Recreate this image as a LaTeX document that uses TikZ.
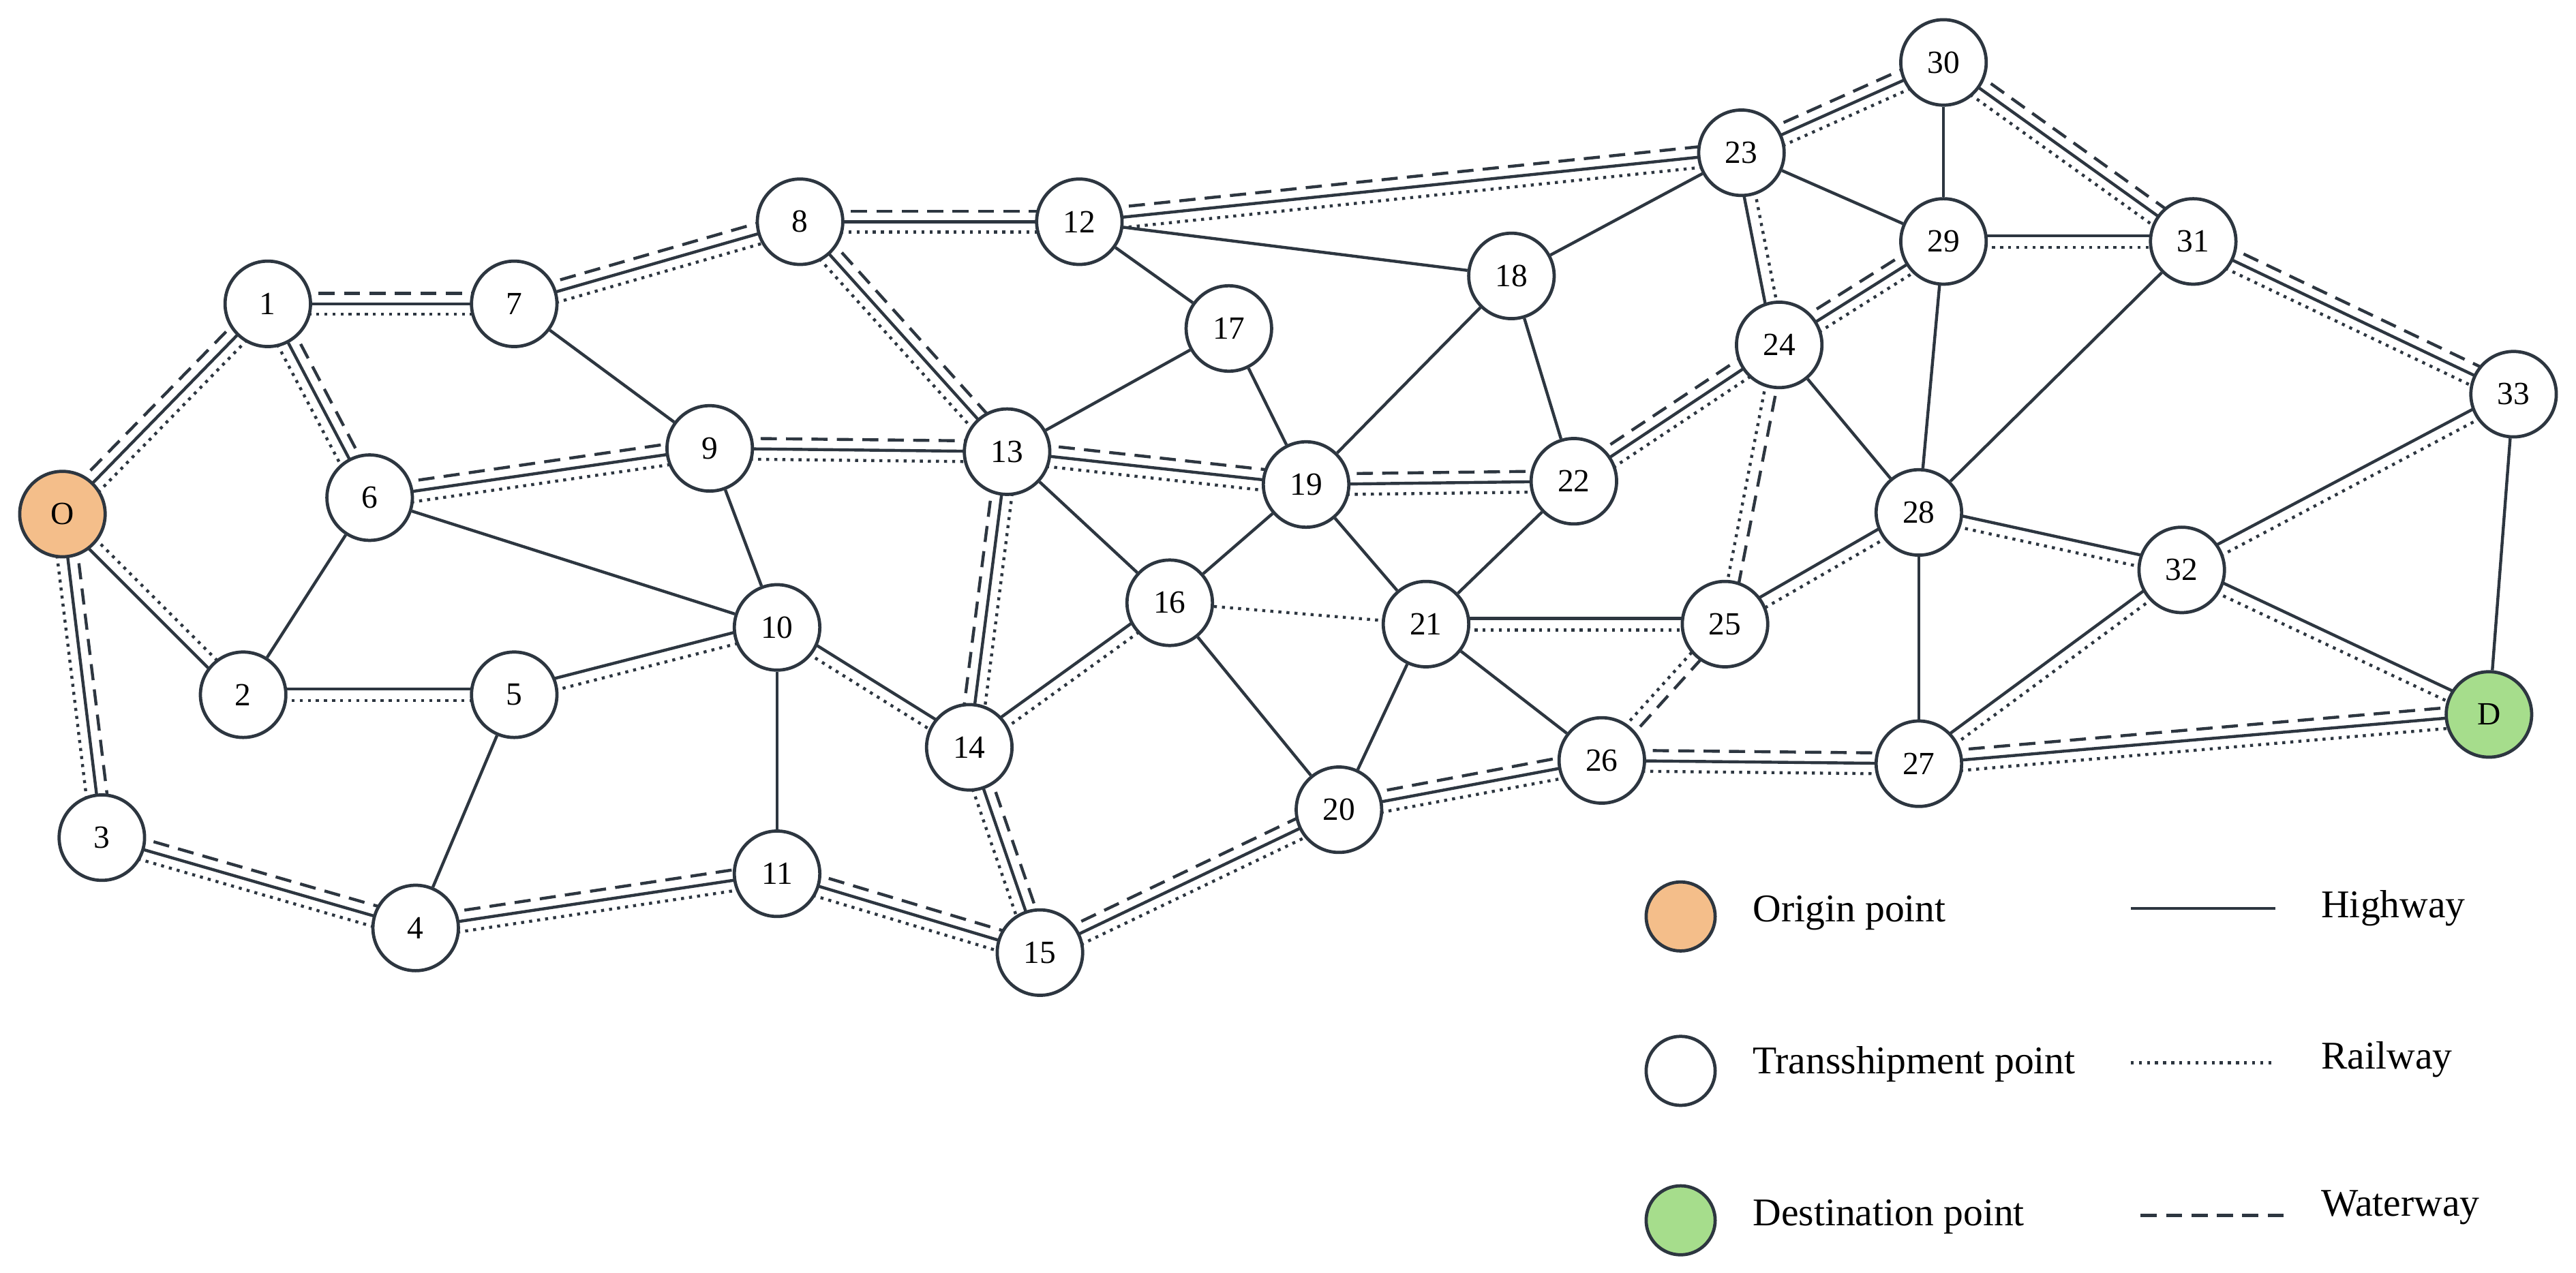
\documentclass[tikz,border=0pt]{standalone}
\usepackage{fontspec}
\setmainfont{Liberation Serif}
\usetikzlibrary{calc,backgrounds}
\definecolor{ink}{HTML}{2D3640}
\definecolor{orig}{HTML}{F4BE8A}
\definecolor{dest}{HTML}{A6DD8C}
\tikzset{
  pt/.style={circle,draw=ink,line width=1.4pt,fill=white,minimum size=1.3cm,inner sep=0pt,font=\fontsize{14}{16}\selectfont},
  h/.style={draw=ink,line width=1.3pt},
  r/.style={draw=ink,line width=1.3pt,dash pattern=on 1.3pt off 2.2pt},
  w/.style={draw=ink,line width=1.3pt,dash pattern=on 7pt off 4pt},
  lg/.style={font=\fontsize{17}{20}\selectfont,anchor=west}
}
% parallel lanes between two nodes: style/offset pairs
\newcommand\lanes[3]{%
  \foreach \s/\o in {#3}{\draw[\s] ($(#1)!\o pt!90:(#2)$) -- ($(#2)!\o pt!-90:(#1)$);}}
\newcommand\tri[4]{\lanes{#1}{#2}{h/0,#3/4.5,#4/-4.5}}
\newcommand\duo[3]{\lanes{#1}{#2}{h/-2.5,#3/2.5}}

\begin{document}
\begin{tikzpicture}[x=0.025cm,y=-0.025cm]
  \useasboundingbox (0,0) rectangle (1568,775);
  \node[pt,fill=orig] (O) at (38,313) {O};
  \node[pt] (1) at (163,185) {1};
  \node[pt] (2) at (148,423) {2};
  \node[pt] (3) at (62,510) {3};
  \node[pt] (4) at (253,565) {4};
  \node[pt] (5) at (313,423) {5};
  \node[pt] (6) at (225,303) {6};
  \node[pt] (7) at (313,185) {7};
  \node[pt] (8) at (487,135) {8};
  \node[pt] (9) at (432,273) {9};
  \node[pt] (10) at (473,382) {10};
  \node[pt] (11) at (473,532) {11};
  \node[pt] (12) at (657,135) {12};
  \node[pt] (13) at (613,275) {13};
  \node[pt] (14) at (590,455) {14};
  \node[pt] (15) at (633,580) {15};
  \node[pt] (16) at (712,367) {16};
  \node[pt] (17) at (748,200) {17};
  \node[pt] (18) at (920,168) {18};
  \node[pt] (19) at (795,295) {19};
  \node[pt] (20) at (815,493) {20};
  \node[pt] (21) at (868,380) {21};
  \node[pt] (22) at (958,293) {22};
  \node[pt] (23) at (1060,93) {23};
  \node[pt] (24) at (1083,210) {24};
  \node[pt] (25) at (1050,380) {25};
  \node[pt] (26) at (975,463) {26};
  \node[pt] (27) at (1168,465) {27};
  \node[pt] (28) at (1168,312) {28};
  \node[pt] (29) at (1183,147) {29};
  \node[pt] (30) at (1183,38) {30};
  \node[pt] (31) at (1335,147) {31};
  \node[pt] (32) at (1328,347) {32};
  \node[pt] (33) at (1530,240) {33};
  \node[pt,fill=dest] (D) at (1515,435) {D};

  \begin{pgfonlayer}{background}
    % three modes
    \tri{O}{1}{w}{r}  \tri{O}{3}{w}{r}  \tri{1}{7}{w}{r}  \tri{1}{6}{w}{r}
    \tri{6}{9}{w}{r}  \tri{7}{8}{w}{r}  \tri{8}{12}{w}{r} \tri{8}{13}{w}{r}
    \tri{9}{13}{w}{r} \tri{3}{4}{w}{r}  \tri{4}{11}{w}{r} \tri{11}{15}{w}{r}
    \tri{13}{14}{r}{w} \tri{14}{15}{w}{r} \tri{13}{19}{w}{r} \tri{12}{23}{w}{r}
    \tri{15}{20}{w}{r} \tri{19}{22}{w}{r} \tri{20}{26}{w}{r} \tri{26}{27}{w}{r}
    \tri{22}{24}{w}{r} \tri{23}{30}{w}{r} \tri{24}{29}{w}{r} \tri{30}{31}{w}{r}
    \tri{31}{33}{w}{r} \tri{27}{D}{w}{r}
    % two modes
    \duo{O}{2}{r} \lanes{2}{5}{h/2.5,r/-2.5} \lanes{5}{10}{h/2.5,r/-2.5}
    \lanes{10}{14}{h/2.5,r/-2.5} \lanes{14}{16}{h/2.5,r/-2.5} \lanes{21}{25}{h/2.5,r/-2.5}
    \duo{23}{24}{r} \lanes{29}{31}{h/2.5,r/-2.5} \duo{33}{32}{r}
    \lanes{28}{32}{h/2.5,r/-2.5} \duo{28}{25}{r} \lanes{27}{32}{h/2.5,r/-2.5}
    \lanes{32}{D}{h/2.5,r/-2.5}
    \lanes{26}{25}{w/-2.5,r/2.5} \lanes{24}{25}{w/2.5,r/-2.5}
    % single modes
    \foreach \a/\b in {6/2,6/10,7/9,9/10,5/4,10/11,13/16,13/17,12/17,12/18,
      16/19,16/20,17/19,18/19,18/22,18/23,19/21,21/20,21/22,21/26,23/29,
      24/28,29/30,29/28,31/28,33/D,28/27}
      \draw[h] (\a) -- (\b);
    \draw[r] (16) -- (21);
  \end{pgfonlayer}

  % legend
  \node[pt,fill=orig,minimum size=1.05cm] (lo) at (1023,558) {};
  \node[pt,minimum size=1.05cm] (lt) at (1023,652) {};
  \node[pt,fill=dest,minimum size=1.05cm] (ld) at (1023,743) {};
  \node[lg] at (1062,556) {Origin point};
  \node[lg] at (1062,648) {Transshipment point};
  \node[lg] at (1062,741) {Destination point};
  \coordinate (h1) at (1297,553); \coordinate (h2) at (1385,553);
  \coordinate (r1) at (1297,647); \coordinate (r2) at (1385,647);
  \coordinate (w1) at (1303,740); \coordinate (w2) at (1390,740);
  \draw[h] (h1) -- (h2); \draw[r] (r1) -- (r2); \draw[w] (w1) -- (w2);
  \node[lg] at (1408,553) {Highway};
  \node[lg] at (1408,645) {Railway};
  \node[lg] at (1408,735) {Waterway};
\end{tikzpicture}
\end{document}
